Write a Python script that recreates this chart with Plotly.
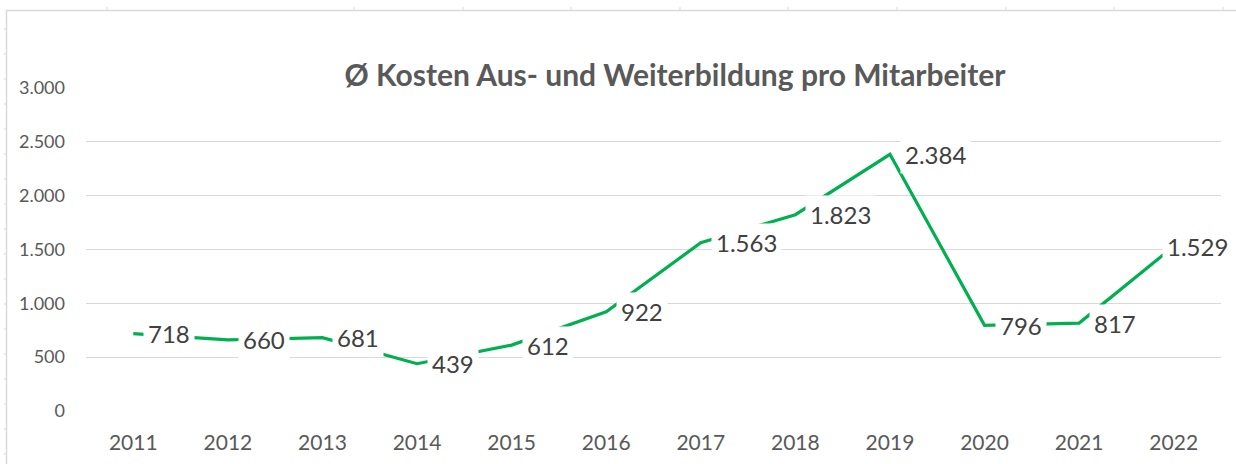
import plotly.graph_objects as go

years = ["2011", "2012", "2013", "2014", "2015", "2016", "2017", "2018", "2019", "2020", "2021", "2022"]
costs = [718, 660, 681, 439, 612, 922, 1563, 1823, 2384, 796, 817, 1529]
y_ticks = [0, 500, 1000, 1500, 2000, 2500, 3000]
title_text = "Ø Kosten Aus- und Weiterbildung pro Mitarbeiter"


def de_fmt(v):
    return f"{v:,.0f}".replace(",", ".")


W, H = 1236, 464
L, R, T, B = 86, 15, 88, 53
pw, ph = W - L - R, H - T - B

fig = go.Figure()
fig.add_trace(go.Scatter(
    x=years, y=costs, mode="lines",
    line=dict(color="#00B050", width=3.2),
    hoverinfo="skip", showlegend=False,
))

FONT = "Lato, 'Open Sans', sans-serif"
annotations = []
for i, v in enumerate(costs):
    shift = -12 if i == len(years) - 1 else 10
    annotations.append(dict(
        x=i, y=v, xref="x", yref="y", text=de_fmt(v), showarrow=False,
        xanchor="left", yanchor="middle", xshift=shift,
        bgcolor="white", borderpad=4,
        font=dict(family=FONT, size=24, color="#404040"),
    ))

def px_x(p):
    return (p - L) / pw

def px_y(p):
    return (H - B - p) / ph

frame_col = "#d9d9d9"
shapes = [
    dict(type="line", xref="paper", yref="paper", x0=px_x(6), x1=px_x(W + 5), y0=px_y(10.5), y1=px_y(10.5),
         line=dict(color=frame_col, width=1.5)),
    dict(type="line", xref="paper", yref="paper", x0=px_x(6.5), x1=px_x(6.5), y0=px_y(10), y1=px_y(H + 5),
         line=dict(color=frame_col, width=1.5)),
]
# faint spreadsheet cell-grid marks along the frame edges
for gx in (107, 354, 463, 571, 680, 788, 897, 1006, 1114, 1223):
    shapes.append(dict(type="line", xref="paper", yref="paper", x0=px_x(gx), x1=px_x(gx),
                       y0=px_y(7), y1=px_y(10), line=dict(color=frame_col, width=1)))
for gy in range(29, 464, 25):
    shapes.append(dict(type="line", xref="paper", yref="paper", x0=px_x(4), x1=px_x(6),
                       y0=px_y(gy), y1=px_y(gy), line=dict(color=frame_col, width=1)))

fig.update_layout(
    width=W, height=H,
    margin=dict(l=L, r=R, t=T, b=B, autoexpand=False),
    paper_bgcolor="white", plot_bgcolor="white",
    title=dict(text=title_text, x=675 / W, xanchor="center", y=1 - 75 / H, yanchor="middle",
               font=dict(family=FONT, size=30, color="#595959", weight="bold")),
    xaxis=dict(type="category", range=[-0.5, len(years) - 0.5], showgrid=False, zeroline=False, showline=False,
               automargin=False,
               tickfont=dict(family=FONT, size=21, color="#595959"), ticks="", ticklabelstandoff=17),
    yaxis=dict(range=[0, 3000], tickvals=y_ticks, ticktext=[de_fmt(t) for t in y_ticks],
               showgrid=True, gridcolor=frame_col, gridwidth=1.3, zeroline=False, showline=False,
               automargin=False,
               tickfont=dict(family=FONT, size=18, color="#595959"), ticks="", ticklabelstandoff=20),
    annotations=annotations,
    shapes=shapes,
)

fig.write_html("out.html", config={"displayModeBar": False},
               post_script="document.body.style.margin='0px';document.body.style.overflow='hidden';")
